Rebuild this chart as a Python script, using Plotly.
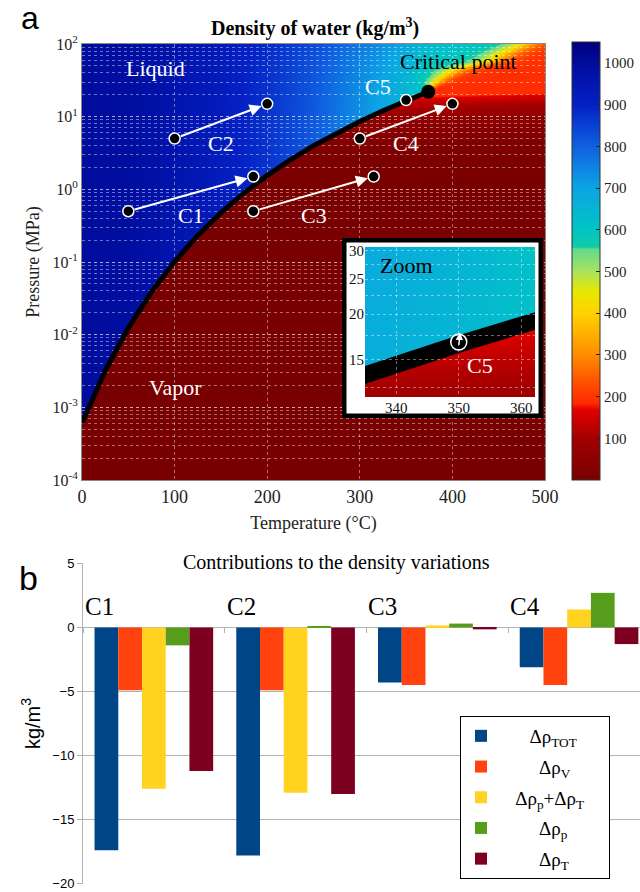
import numpy as np
import plotly.graph_objects as go

# ---------------- data ----------------
# saturation curve of water (T in degC, P in MPa)
sat_T = [0, 25, 50, 75, 100, 125, 150, 175, 200, 225, 250, 275, 300, 325, 350, 373.95]
sat_P = [0.000611, 0.00317, 0.01235, 0.0386, 0.1014, 0.2321, 0.4762, 0.8926, 1.555,
         2.55, 3.976, 5.95, 8.588, 12.05, 16.53, 22.06]
# liquid-side density (kg/m3) as seen from the colours
liq_T = [0, 50, 100, 150, 200, 250, 300, 325, 340, 350, 360, 374, 400, 450, 500]
liq_rho = [1000, 990, 960, 920, 870, 810, 730, 690, 665, 645, 620, 590, 570, 530, 490]
# supercritical transition line (yellow band) and its width
wid_T = [373.95, 381, 403, 440, 478]
wid_P = [22.06, 29, 44, 56, 100]
width_P = [22.06, 30, 44, 100]
width_T = [0.4, 6, 10, 12]

# paths in panel a
cases = ["C1", "C2", "C3", "C4"]
start_T = [50, 100, 185, 300]
start_P = [0.5, 5, 0.5, 5]
end_T = [185, 200, 315, 400]
end_P = [1.5, 15, 1.5, 15]
c5_start = (350.0, 16.3)
c5_end = (350.2, 17.8)
crit_T, crit_P = 373.95, 22.06

# panel b
d_tot = [-17.4, -17.8, -4.3, -3.1]
d_v = [-4.9, -4.9, -4.5, -4.5]
d_pT = [-12.6, -12.9, 0.15, 1.4]
d_p = [-1.4, 0.1, 0.3, 2.7]
d_T = [-11.2, -13.0, -0.15, -1.3]
bar_names = ["Δρ<sub>TOT</sub>", "Δρ<sub>V</sub>", "Δρ<sub>p</sub>+Δρ<sub>T</sub>",
             "Δρ<sub>p</sub>", "Δρ<sub>T</sub>"]
bar_pad = [6, 8, 3, 8, 8]
bar_colors = ["#004586", "#ff420e", "#ffd320", "#579d1c", "#7e0021"]

cbar_ticks = [100, 200, 300, 400, 500, 600, 700, 800, 900, 1000]
p_ticks = [-4, -3, -2, -1, 0, 1, 2]
inset_T_ticks = [340, 350, 360]
inset_P_ticks = [15, 20, 25, 30]
inset_P_grid = [12.5, 15, 17.5, 20, 22.5, 25, 27.5, 30]

# ---------------- density field ----------------
bnd_logP = np.concatenate([np.log10(sat_P), np.log10(wid_P[1:])])
bnd_T = np.concatenate([sat_T, wid_T[1:]])


def density(T1, LP1):
    TT, LP = np.meshgrid(T1, LP1)
    P = 10 ** LP
    Tb = np.interp(LP, bnd_logP, bnd_T)
    w = np.interp(P, width_P, width_T)
    psat = 10 ** np.interp(TT, sat_T, np.log10(sat_P))
    hi = np.interp(TT, liq_T, liq_rho) + 0.6 * np.clip(P - psat, 0, None) * (TT / 374.0) ** 2
    lo = np.minimum(P * 2166.8 / (TT + 273.15) * (1 + 0.1 * P), 190)
    s = 1 / (1 + np.exp(np.clip((TT - Tb) / w, -60, 60)))
    s = np.where(LP < bnd_logP[0], 0, s)
    return np.round(lo + (hi - lo) * s).astype(int)


T_grid = np.arange(0, 500.01, 1.25)
LP_grid = np.arange(-4, 2.0001, 0.015)
Z = density(T_grid, LP_grid)

Ti = np.arange(334, 363.01, 0.1)
LPi = np.arange(1.06, 1.50, 0.002)
Zi = density(Ti, LPi)

cscale = [
    [0.0, "#780000"], [0.09, "#a00000"], [0.16, "#e00000"], [0.175, "#ff2a00"],
    [0.2, "#ff3c00"], [0.29, "#ff9000"], [0.38, "#ffd200"], [0.43, "#e8e800"],
    [0.48, "#a4e264"], [0.527, "#62d98e"], [0.532, "#10cca8"], [0.575, "#00c4c4"],
    [0.667, "#0ca4e4"], [0.762, "#1060e0"], [0.857, "#0420c4"], [0.952, "#000c9c"],
    [1.0, "#000080"],
]

SERIF = "Liberation Serif"
SANS = "Liberation Sans"
H = 892.0
W = 640.0


def py(p):
    return 1 - p / H


def px(p):
    return p / W


fig = go.Figure()

# main heatmap (linear axis in log10 P)
fig.add_trace(go.Heatmap(
    x=T_grid, y=LP_grid, z=Z, xaxis="x", yaxis="y", colorscale=cscale,
    zmin=0, zmax=1050, zsmooth=False, hoverinfo="skip",
    colorbar=dict(x=px(572), xanchor="left", y=py(261), yanchor="middle",
                  len=438 / H, lenmode="fraction", thickness=28, xpad=0, ypad=0,
                  outlinewidth=1, outlinecolor="#333",
                  tickvals=cbar_ticks, ticks="inside", ticklen=4, tickcolor="#222",
                  tickfont=dict(family=SERIF, size=15, color="#222")),
))

# saturation curve, points (on the log axis overlay subplot)
fig.add_trace(go.Scatter(x=sat_T, y=sat_P, xaxis="x2", yaxis="y2", mode="lines",
                         line=dict(color="black", width=5), hoverinfo="skip", showlegend=False))
fig.add_trace(go.Scatter(x=start_T + end_T + [c5_start[0]], y=start_P + end_P + [16.9],
                         xaxis="x2", yaxis="y2", mode="markers",
                         marker=dict(size=11, color="black", line=dict(color="white", width=1.5)),
                         hoverinfo="skip", showlegend=False))
fig.add_trace(go.Scatter(x=[crit_T], y=[crit_P], xaxis="x2", yaxis="y2", mode="markers",
                         marker=dict(size=14, color="black"), hoverinfo="skip", showlegend=False))

# inset heatmap
fig.add_trace(go.Heatmap(
    x=Ti, y=LPi, z=Zi, xaxis="x4", yaxis="y4", colorscale=cscale,
    zmin=0, zmax=1050, zsmooth=False, showscale=False, hoverinfo="skip"))
fig.add_trace(go.Scatter(x=sat_T, y=np.log10(sat_P), xaxis="x4", yaxis="y4", mode="lines",
                         line=dict(color="black", width=17), hoverinfo="skip", showlegend=False))

# bars
tail = "&nbsp;&nbsp;&nbsp;<span style='color:white'>.</span>"
for vals, name, col, pad in zip([d_tot, d_v, d_pT, d_p, d_T], bar_names, bar_colors, bar_pad):
    fig.add_trace(go.Bar(x=cases, y=vals, name="&nbsp;" * pad + name + tail,
                         xaxis="x5", yaxis="y5",
                         marker=dict(color=col, line=dict(width=0)), legendgroup=name))

# C5 circle in the inset, drawn above the inset grid overlay
fig.add_trace(go.Scatter(x=[c5_start[0]], y=[np.log10(16.75)], xaxis="x6", yaxis="y6",
                         mode="markers",
                         marker=dict(symbol="circle-open", size=16, color="white",
                                     line=dict(width=1.5, color="white")),
                         hoverinfo="skip", showlegend=False))

gridw = "rgba(255,255,255,0.42)"
main_x = [px(82), px(545)]
main_y = [py(480), py(44)]
ins_x = [px(365), px(535)]
ins_y = [py(397), py(247)]
ins_xr = [335, 362.2]
ins_yr = [np.log10(11.8), np.log10(30.7)]

fig.update_layout(
    width=640, height=892, autosize=False,
    margin=dict(l=0, r=0, t=0, b=0, autoexpand=False),
    paper_bgcolor="white", plot_bgcolor="rgba(0,0,0,0)",
    barmode="group", bargap=0.163, bargroupgap=0,
    showlegend=True,
    legend=dict(x=px(460), y=py(716), xanchor="left", yanchor="top",
                bgcolor="white", bordercolor="black", borderwidth=1,
                font=dict(family=SERIF, size=19, color="black"),
                tracegroupgap=3),
    xaxis=dict(domain=main_x, range=[0, 500], visible=False, anchor="y"),
    yaxis=dict(domain=main_y, range=[-4, 2], visible=False, anchor="x"),
    xaxis2=dict(domain=main_x, range=[0, 500], anchor="y2", tickvals=[0, 100, 200, 300, 400, 500],
                showgrid=True, gridcolor=gridw, griddash="dot", gridwidth=1,
                showline=True, mirror=True, linecolor="#8a8a8a", linewidth=1, zeroline=False,
                tickfont=dict(family=SERIF, size=18, color="#222"), automargin=False,
                title=dict(text="Temperature (°C)", font=dict(family=SERIF, size=18, color="#222"),
                           standoff=10)),
    yaxis2=dict(domain=main_y, type="log", range=[-4, 2], anchor="x2",
                tickvals=[10.0 ** k for k in p_ticks],
                ticktext=["10<sup>%d</sup>" % k for k in p_ticks],
                showgrid=True, gridcolor=gridw, griddash="dot",
                minor=dict(showgrid=True, gridcolor=gridw, griddash="dot", ticks="",
                           dtick="D1"),
                showline=True, mirror=True, linecolor="#8a8a8a", linewidth=1, zeroline=False,
                tickfont=dict(family=SERIF, size=16, color="#222"), automargin=False,
                title=dict(text="Pressure (MPa)", font=dict(family=SERIF, size=18, color="#222"),
                           standoff=8)),
    xaxis3=dict(domain=[px(342), px(543)], range=[0, 1], visible=False, anchor="y3"),
    yaxis3=dict(domain=[py(418), py(238)], range=[0, 1], visible=False, anchor="x3"),
    xaxis4=dict(domain=ins_x, range=ins_xr, anchor="y4",
                tickvals=inset_T_ticks, showgrid=False, zeroline=False, ticks="",
                tickfont=dict(family=SERIF, size=15, color="#111"), automargin=False),
    yaxis4=dict(domain=ins_y, range=ins_yr, anchor="x4",
                tickvals=list(np.log10(inset_P_ticks)), ticktext=[str(v) for v in inset_P_ticks],
                showgrid=False, zeroline=False, ticks="",
                tickfont=dict(family=SERIF, size=15, color="#111"), automargin=False),
    xaxis5=dict(domain=[px(83), 1.0], range=[-0.5, 3.43], anchor="free", position=py(627),
                showticklabels=False, ticks="outside", ticklen=5, tickcolor="#b3b3b3",
                tickson="boundaries", showgrid=False, showline=False, zeroline=False,
                automargin=False),
    yaxis5=dict(domain=[py(884), py(563)], range=[-20.03, 5.03], anchor="x5", dtick=5,
                showgrid=True, gridcolor="#b3b3b3", gridwidth=1, zeroline=False,
                showline=True, linecolor="#b3b3b3", linewidth=1,
                ticks="outside", ticklen=5, tickcolor="#b3b3b3",
                tickfont=dict(family=SANS, size=13, color="black"), automargin=False,
                title=dict(text="kg/m<sup>3</sup>", font=dict(family=SANS, size=20, color="black"),
                           standoff=6)),
    # grid overlay for the inset
    xaxis6=dict(domain=ins_x, range=ins_xr, anchor="y6", tickvals=inset_T_ticks,
                showticklabels=False, ticks="", showgrid=True, gridcolor=gridw, griddash="dot",
                zeroline=False, automargin=False),
    yaxis6=dict(domain=ins_y, range=ins_yr, anchor="x6",
                tickvals=list(np.log10(inset_P_grid)), showticklabels=False, ticks="",
                showgrid=True, gridcolor=gridw, griddash="dot", zeroline=False,
                automargin=False),
)

# inset frame (white panel with black border) drawn in subplot x3y3
fig.add_shape(type="rect", xref="x3", yref="y3", x0=0, x1=1, y0=0, y1=1,
              fillcolor="white", line=dict(color="black", width=9), layer="below")

C = dict(xanchor="center", yanchor="middle", showarrow=False)
ann = []
# arrows C1..C4
for i in range(4):
    ann.append(dict(x=end_T[i], y=np.log10(end_P[i]), ax=start_T[i], ay=np.log10(start_P[i]),
                    xref="x2", yref="y2", axref="x2", ayref="y2", text="", showarrow=True,
                    arrowhead=2, arrowsize=1.2, arrowwidth=2, arrowcolor="white",
                    standoff=6, startstandoff=5))
    ann.append(dict(x=(start_T[i] + end_T[i]) / 2,
                    y=(np.log10(start_P[i]) + np.log10(end_P[i])) / 2,
                    xref="x2", yref="y2", text=cases[i], yshift=-22,
                    font=dict(family=SERIF, size=22, color="white"), **C))
ann += [
    dict(x=c5_start[0], y=np.log10(16.9), xref="x2", yref="y2", text="C5",
         xshift=-28, yshift=14, font=dict(family=SERIF, size=22, color="white"), **C),
    dict(x=crit_T, y=np.log10(crit_P), xref="x2", yref="y2", text="Critical point",
         xshift=30, yshift=30, font=dict(family=SERIF, size=22, color="black"), **C),
    dict(x=px(155), y=py(68), xref="paper", yref="paper", text="Liquid",
         font=dict(family=SERIF, size=22, color="white"), **C),
    dict(x=px(175), y=py(388), xref="paper", yref="paper", text="Vapor",
         font=dict(family=SERIF, size=22, color="white"), **C),
    # inset
    dict(x=c5_end[0], y=np.log10(c5_end[1]), ax=c5_start[0], ay=np.log10(c5_start[1]),
         xref="x4", yref="y4", axref="x4", ayref="y4", text="", showarrow=True,
         arrowhead=2, arrowsize=1, arrowwidth=1.5, arrowcolor="white"),
    dict(x=px(406), y=py(265), xref="paper", yref="paper", text="Zoom",
         font=dict(family=SERIF, size=22, color="black"), **C),
    dict(x=px(480), y=py(366), xref="paper", yref="paper", text="C5",
         font=dict(family=SERIF, size=22, color="white"), **C),
    # titles / panel letters
    dict(x=px(315), y=py(27), xref="paper", yref="paper",
         text="<b>Density of water (kg/m<sup>3</sup>)</b>",
         font=dict(family=SERIF, size=20, color="black"), **C),
    dict(x=px(30), y=py(18), xref="paper", yref="paper", text="a",
         font=dict(family=SANS, size=32, color="black"), **C),
    dict(x=px(28), y=py(578), xref="paper", yref="paper", text="b",
         font=dict(family=SANS, size=34, color="black"), **C),
    dict(x=px(336), y=py(562), xref="paper", yref="paper",
         text="Contributions to the density variations", bgcolor="white",
         borderpad=5, font=dict(family=SERIF, size=20, color="black"), **C),
]
for c in cases:
    ann.append(dict(x=c, y=1.65, xref="x5", yref="y5", text=c, showarrow=False,
                    xanchor="left", yanchor="middle", xshift=-71,
                    font=dict(family=SERIF, size=25, color="black")))
fig.update_layout(annotations=ann)

fig.write_html("out.html", config={"displayModeBar": False},
               post_script="document.body.style.margin='0px';document.body.style.overflow='hidden';")
